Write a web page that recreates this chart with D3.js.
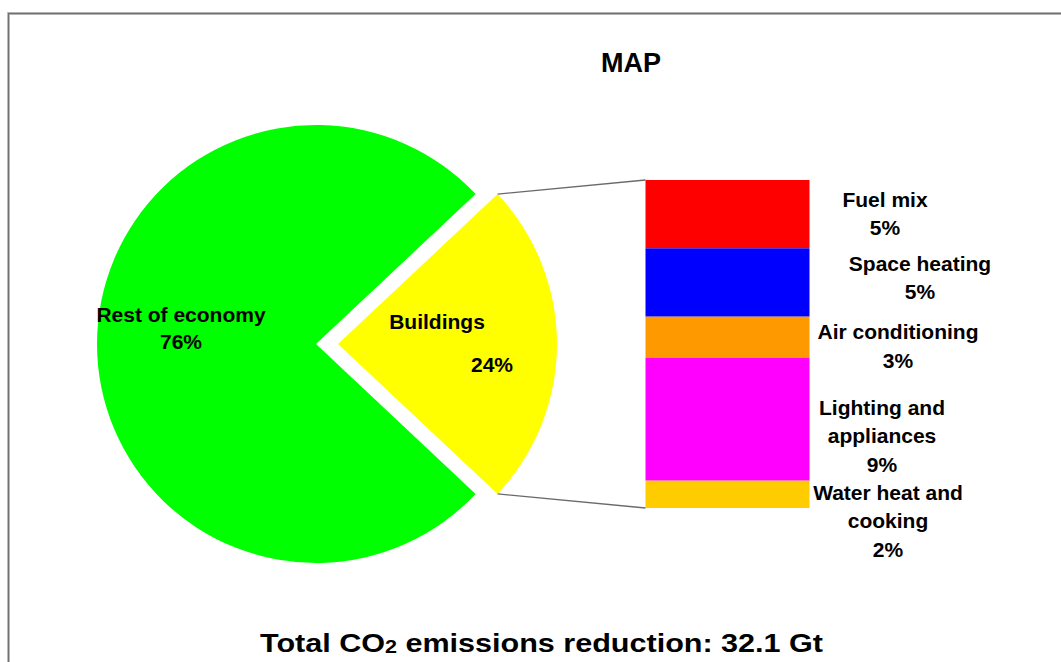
<!DOCTYPE html>
<html>
<head>
<meta charset="utf-8">
<script src="https://cdn.jsdelivr.net/npm/d3@7"></script>
<style>
  html, body { margin: 0; padding: 0; background: #fff; }
  svg { display: block; }
  text { font-family: "Liberation Sans", Arial, sans-serif; font-weight: bold; fill: #000; }
</style>
</head>
<body>
<svg id="chart" width="1061" height="662"></svg>
<script>
// ---- data ----
const pieCategories = ["Rest of economy", "Buildings"];
const pieValues = [76, 24];
const pieColors = ["#00FF00", "#FFFF00"];

const barCategories = ["Fuel mix", "Space heating", "Air conditioning", "Lighting and appliances", "Water heat and cooking"];
const barValues = [5, 5, 3, 9, 2];
const barColors = ["#FF0000", "#0000FF", "#FF9900", "#FF00FF", "#FFCC00"];

const barLabelLines = [
  ["Fuel mix", "5%"],
  ["Space heating", "5%"],
  ["Air conditioning", "3%"],
  ["Lighting and", "appliances", "9%"],
  ["Water heat and", "cooking", "2%"]
];

const titleText = "MAP";
const totalText = ["Total CO", "2", " emissions reduction: 32.1 Gt"];

// ---- layout ----
const svg = d3.select("#chart");

// frame
svg.append("path")
  .attr("d", "M8.5,700 L8.5,13.5 L1100,13.5")
  .attr("fill", "none").attr("stroke", "#c8c8c8").attr("stroke-width", 3);
svg.append("path")
  .attr("d", "M8.5,700 L8.5,13.5 L1100,13.5")
  .attr("fill", "none").attr("stroke", "#707070").attr("stroke-width", 1.3);

// title
svg.append("text").attr("x", 631).attr("y", 72).attr("text-anchor", "middle")
  .attr("font-size", 27).text(titleText);

// pie
const cx = 316, cy = 344, R = 219, explode = 22;
const buildingsFrac = pieValues[1] / d3.sum(pieValues);
const start = Math.PI / 2 + buildingsFrac * Math.PI;
const pie = d3.pie().sort(null).startAngle(start).endAngle(start + 2 * Math.PI);
const arcs = pie(pieValues);
const arc = d3.arc().innerRadius(0).outerRadius(R);

const pieG = svg.append("g");
arcs.forEach((a, i) => {
  const mid = (a.startAngle + a.endAngle) / 2;
  const off = i === 1 ? explode : 0;
  const dx = Math.sin(mid) * off, dy = -Math.cos(mid) * off;
  pieG.append("path")
    .attr("transform", `translate(${cx + dx},${cy + dy})`)
    .attr("d", arc(a))
    .attr("fill", pieColors[i]);
});

// pie labels
const pieLabelPos = [
  { lines: [pieCategories[0], pieValues[0] + "%"], xs: [181, 181], ys: [322, 349] },
  { lines: [pieCategories[1], pieValues[1] + "%"], xs: [437, 492], ys: [328.5, 372] }
];
pieLabelPos.forEach(p => {
  p.lines.forEach((l, j) => {
    svg.append("text").attr("x", p.xs[j]).attr("y", p.ys[j])
      .attr("text-anchor", "middle").attr("font-size", 21).text(l);
  });
});

// stacked bar
const barX0 = 645.5, barX1 = 809.5;
const y = d3.scaleLinear().domain([0, d3.sum(barValues)]).range([180, 508]);
let cum = 0;
const segs = barValues.map((v, i) => {
  const s = { y0: cum, y1: cum + v, color: barColors[i] };
  cum += v;
  return s;
});
svg.append("g").selectAll("rect").data(segs).join("rect")
  .attr("x", barX0).attr("width", barX1 - barX0)
  .attr("y", d => y(d.y0)).attr("height", d => y(d.y1) - y(d.y0))
  .attr("fill", d => d.color);

// connector lines
const bA = arcs[1];
const bMid = (bA.startAngle + bA.endAngle) / 2;
const bx = cx + Math.sin(bMid) * explode, by = cy - Math.cos(bMid) * explode;
const topCorner = [bx + Math.sin(bA.startAngle) * R, by - Math.cos(bA.startAngle) * R];
const botCorner = [bx + Math.sin(bA.endAngle) * R, by - Math.cos(bA.endAngle) * R];
const upper = topCorner[1] < botCorner[1] ? topCorner : botCorner;
const lower = topCorner[1] < botCorner[1] ? botCorner : topCorner;
svg.append("line").attr("x1", upper[0]).attr("y1", upper[1]).attr("x2", barX0).attr("y2", y(0))
  .attr("stroke", "#6a6a6a").attr("stroke-width", 1.3);
svg.append("line").attr("x1", lower[0]).attr("y1", lower[1]).attr("x2", barX0).attr("y2", y(d3.sum(barValues)))
  .attr("stroke", "#6a6a6a").attr("stroke-width", 1.3);

// bar labels
const barLabelX = [885, 920, 898, 882, 888];
const barLabelY0 = [206.5, 270.5, 339, 414.5, 499.5];
const lineH = 28.5;
barLabelLines.forEach((lines, i) => {
  lines.forEach((l, j) => {
    svg.append("text").attr("x", barLabelX[i]).attr("y", barLabelY0[i] + j * lineH)
      .attr("text-anchor", "middle").attr("font-size", 21).text(l);
  });
});

// total text
const tt = svg.append("text").attr("x", 260).attr("y", 652).attr("font-size", 25.5);
tt.append("tspan").text(totalText[0]);
tt.append("tspan").attr("font-size", 18).attr("dy", 1).text(totalText[1]);
tt.append("tspan").attr("dy", -1).text(totalText[2]);
const w = tt.node().getBBox().width;
const targetW = 564;
tt.attr("transform", `translate(260,0) scale(${targetW / w},1) translate(-260,0)`);
</script>
</body>
</html>
